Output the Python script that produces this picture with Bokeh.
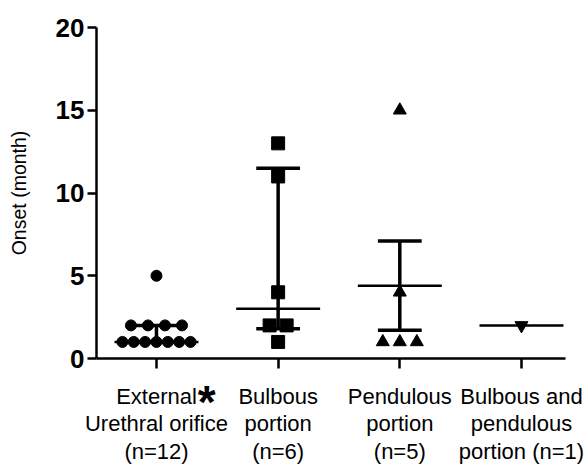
from bokeh.plotting import figure
from bokeh.models import FixedTicker, Label
from bokeh.embed import file_html
from bokeh.resources import INLINE

# ---- data ----
categories = [
    "External\nUrethral orifice\n(n=12)",
    "Bulbous\nportion\n(n=6)",
    "Pendulous\nportion\n(n=5)",
    "Bulbous and\npendulous\nportion (n=1)",
]
external = [5, 2, 2, 2, 2, 1, 1, 1, 1, 1, 1, 1]
bulbous = [13, 11, 4, 2, 2, 1]
pendulous = [15, 4, 1, 1, 1]
bulbous_pendulous = [2]
center_line = [1, 3, 4.4, 2]          # median / mean line
bar_low = [1, 1.8, 1.7, None]         # lower end of error bar
bar_high = [2, 11.5, 7.1, None]       # upper end of error bar
y_ticks = [0, 5, 10, 15, 20]

groups = [external, bulbous, pendulous, bulbous_pendulous]
markers = ["circle", "square", "triangle", "inverted_triangle"]
sizes = [11, 13, 13, 13]

FONT = "Liberation Sans"

p = figure(width=588, height=466, x_range=(-0.493, 3.362), y_range=(0, 20),
           output_backend="svg", toolbar_location=None,
           min_border_left=96, min_border_right=23, min_border_top=27,
           min_border_bottom=107)
p.outline_line_color = None
p.xgrid.visible = False
p.ygrid.visible = False

# scatter points, spread horizontally when values repeat
for gi, vals in enumerate(groups):
    counts = {}
    for v in vals:
        counts[v] = counts.get(v, 0) + 1
    xs, ys = [], []
    for v, k in counts.items():
        step = 0.14 if k < 2 else min(0.14, 0.56 / (k - 1))
        for i in range(k):
            xs.append(gi + (i - (k - 1) / 2) * step)
            ys.append(v)
    p.scatter(xs, ys, marker=markers[gi], size=sizes[gi],
              fill_color="black", line_color="black")

# error bars
wx, wlo, whi = [], [], []
for gi in range(len(categories)):
    if bar_low[gi] is not None and bar_high[gi] is not None:
        wx.append(gi); wlo.append(bar_low[gi]); whi.append(bar_high[gi])
p.segment(x0=wx, y0=wlo, x1=wx, y1=whi, line_color="black", line_width=3.5)
cap_half = 0.18
for ends in (wlo, whi):
    p.segment(x0=[x - cap_half for x in wx], y0=ends,
              x1=[x + cap_half for x in wx], y1=ends,
              line_color="black", line_width=3.5)
line_half = 0.345
p.segment(x0=[i - line_half for i in range(len(categories))], y0=center_line,
          x1=[i + line_half for i in range(len(categories))], y1=center_line,
          line_color="black", line_width=2.5)

# axes
xa = p.xaxis[0]
xa.ticker = FixedTicker(ticks=list(range(len(categories))))
xa.major_label_overrides = {i: c for i, c in enumerate(categories)}
xa.major_label_text_font = FONT
xa.major_label_text_font_size = "22px"
xa.major_label_text_color = "black"
xa.major_label_text_line_height = 1.1
xa.major_label_standoff = 15
xa.major_tick_out = 10
xa.major_tick_in = 0
xa.minor_tick_line_color = None
xa.axis_line_width = 2.5
xa.major_tick_line_width = 2.5
xa.axis_line_color = "black"
xa.major_tick_line_color = "black"

ya = p.yaxis[0]
ya.ticker = FixedTicker(ticks=y_ticks)
ya.major_label_text_font = FONT
ya.major_label_text_font_size = "26px"
ya.major_label_text_font_style = "bold"
ya.major_label_text_color = "black"
ya.major_label_standoff = 3
ya.major_tick_out = 9
ya.major_tick_in = 0
ya.minor_tick_line_color = None
ya.axis_line_width = 2.5
ya.major_tick_line_width = 2.5
ya.axis_line_color = "black"
ya.major_tick_line_color = "black"
ya.axis_label = "Onset (month)"
ya.axis_label_text_font = FONT
ya.axis_label_text_font_size = "19.5px"
ya.axis_label_text_font_style = "normal"
ya.axis_label_text_color = "black"
ya.axis_label_standoff = 23

# significance asterisk after "External" (held in the right side panel so it is not clipped)
p.add_layout(Label(x=0.34, y=-17, x_units="data", y_units="screen", text="*",
                   text_font=FONT, text_font_size="46px", text_font_style="bold",
                   text_align="left", text_baseline="top", text_color="black"),
             "right")

open("out.html", "w").write(file_html(p, INLINE))
